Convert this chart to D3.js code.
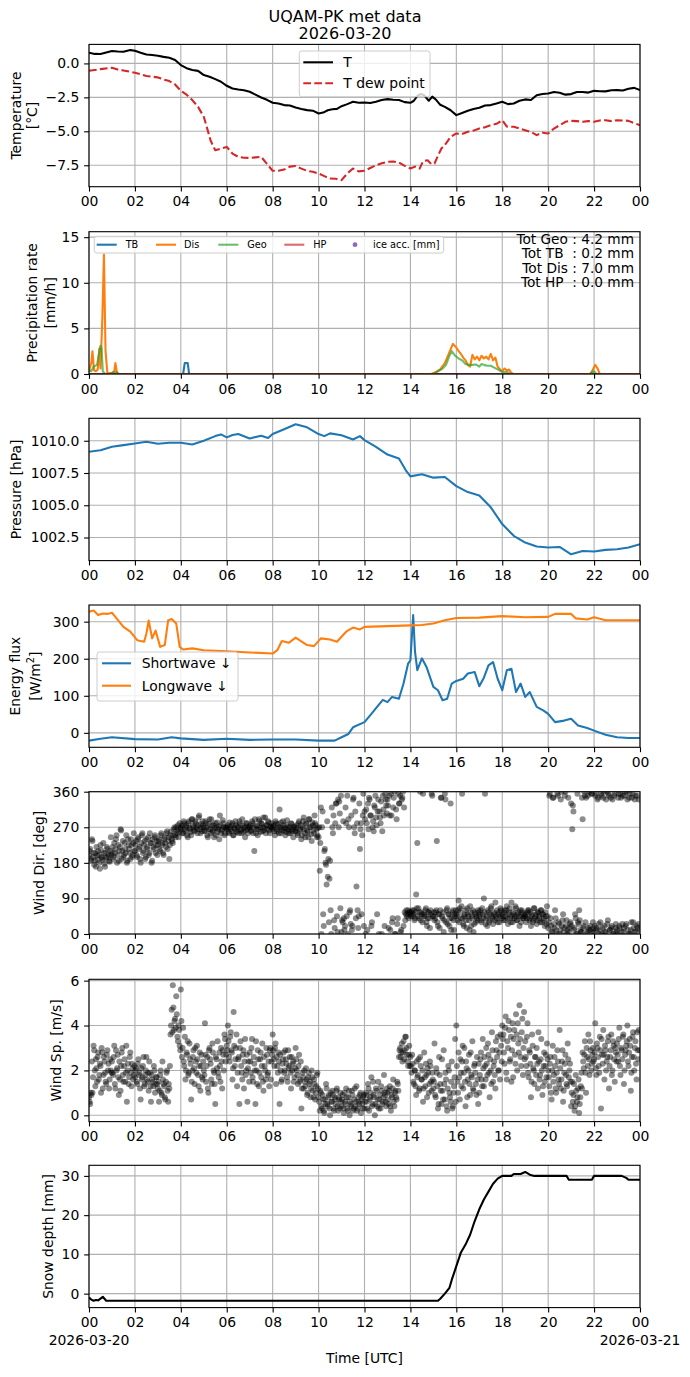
<!DOCTYPE html>
<html><head><meta charset="utf-8">
<script src="https://cdn.jsdelivr.net/npm/d3@7"></script>
<style>body{margin:0;background:#fff}svg text{font-family:"DejaVu Sans",sans-serif}</style>
</head><body>
<svg id="c" width="690" height="1377"></svg>
<script>
// ---------------- DATA ----------------
const titleLines = ["UQAM-PK met data", "2026-03-20"];
const hourTicks = [0,2,4,6,8,10,12,14,16,18,20,22,24];
const xTickLabels = ["00","02","04","06","08","10","12","14","16","18","20","22","00"];
const dateLabels = ["2026-03-20", "2026-03-21"];

const tempT = [[0,0.79],[0.25,0.70],[0.5,0.69],[0.75,0.80],[1,0.91],[1.25,0.88],[1.5,0.86],[1.8,0.98],[2,0.93],[2.25,0.78],[2.5,0.66],[2.75,0.62],[3,0.57],[3.25,0.48],[3.5,0.42],[3.75,0.25],[4,-0.12],[4.25,-0.35],[4.5,-0.49],[4.75,-0.55],[5,-0.86],[5.25,-0.98],[5.5,-1.16],[5.75,-1.35],[6,-1.65],[6.25,-1.85],[6.5,-1.92],[6.75,-1.98],[7,-2.09],[7.25,-2.30],[7.5,-2.51],[7.75,-2.68],[8,-2.90],[8.25,-2.95],[8.5,-3.07],[8.75,-3.10],[9,-3.24],[9.25,-3.35],[9.5,-3.44],[9.75,-3.48],[10,-3.69],[10.2,-3.62],[10.4,-3.45],[10.6,-3.38],[10.8,-3.35],[11,-3.15],[11.25,-3.00],[11.5,-2.83],[11.75,-2.90],[12,-2.88],[12.25,-2.92],[12.5,-2.83],[12.75,-2.70],[13,-2.63],[13.25,-2.68],[13.5,-2.70],[13.75,-2.85],[14,-2.90],[14.15,-2.75],[14.3,-2.40],[14.45,-2.25],[14.6,-2.35],[14.8,-2.75],[14.95,-2.45],[15.1,-2.65],[15.3,-3.05],[15.5,-3.20],[15.75,-3.45],[16,-3.81],[16.25,-3.65],[16.5,-3.49],[16.75,-3.35],[17,-3.27],[17.25,-3.10],[17.5,-3.07],[17.75,-2.95],[18,-2.83],[18.25,-3.00],[18.5,-2.95],[18.75,-2.75],[19,-2.65],[19.25,-2.70],[19.5,-2.34],[19.75,-2.25],[20,-2.21],[20.25,-2.10],[20.5,-2.16],[20.75,-2.30],[21,-2.26],[21.25,-2.10],[21.5,-2.11],[21.75,-2.15],[22,-2.02],[22.25,-2.05],[22.5,-2.06],[22.75,-1.98],[23,-1.97],[23.25,-2.00],[23.5,-1.87],[23.75,-1.80],[24,-1.97]];
const tempDew = [[0,-0.54],[0.5,-0.42],[1,-0.32],[1.25,-0.45],[1.5,-0.52],[2,-0.69],[2.25,-0.80],[2.5,-0.93],[3,-1.03],[3.25,-1.18],[3.5,-1.30],[3.75,-1.55],[4,-2.02],[4.25,-2.30],[4.5,-2.70],[4.75,-3.20],[5,-3.93],[5.15,-4.80],[5.3,-5.70],[5.5,-6.39],[5.75,-6.27],[6,-6.15],[6.25,-6.64],[6.5,-6.88],[6.75,-6.95],[7,-6.96],[7.25,-6.92],[7.5,-6.88],[7.75,-7.40],[8,-7.91],[8.25,-7.90],[8.5,-7.82],[8.75,-7.60],[9,-7.55],[9.25,-7.75],[9.5,-7.91],[9.75,-7.98],[10,-8.11],[10.25,-8.30],[10.5,-8.48],[10.75,-8.50],[11,-8.60],[11.25,-8.10],[11.5,-7.74],[11.75,-7.95],[12,-7.91],[12.25,-7.70],[12.5,-7.50],[12.75,-7.35],[13,-7.25],[13.25,-7.22],[13.5,-7.30],[13.75,-7.55],[14,-7.74],[14.2,-7.60],[14.4,-7.75],[14.55,-7.20],[14.75,-7.13],[14.9,-7.40],[15.05,-7.37],[15.2,-6.80],[15.35,-6.27],[15.55,-5.90],[15.75,-5.41],[16,-5.16],[16.25,-5.20],[16.5,-5.04],[16.75,-4.95],[17,-4.79],[17.25,-4.70],[17.5,-4.55],[17.75,-4.45],[18,-4.18],[18.2,-4.65],[18.5,-4.67],[18.75,-4.80],[19,-4.92],[19.25,-5.05],[19.5,-5.28],[19.75,-5.10],[20,-5.16],[20.25,-4.80],[20.5,-4.55],[20.75,-4.30],[21,-4.23],[21.25,-4.25],[21.5,-4.30],[21.75,-4.25],[22,-4.30],[22.25,-4.20],[22.5,-4.18],[22.75,-4.25],[23,-4.18],[23.25,-4.20],[23.5,-4.23],[23.75,-4.40],[24,-4.55]];
const tempLegend = ["T", "T dew point"];
const tempTicks = [0, -2.5, -5, -7.5];

const precipTB = [[0,0],[4.1,0],[4.17,1.2],[4.3,1.2],[4.36,0],[24,0]];
const precipDis = [[0,0.2],[0.05,0.8],[0.1,1.2],[0.15,2.5],[0.22,0.4],[0.3,0.3],[0.38,0.5],[0.45,2.8],[0.5,0.6],[0.58,6.0],[0.65,13.1],[0.72,2.5],[0.8,0.1],[1.0,0.1],[1.1,0.3],[1.15,1.2],[1.22,0.1],[1.3,0],[14.9,0],[15.1,0.2],[15.3,0.5],[15.5,1.2],[15.7,2.4],[15.85,3.3],[16.0,2.9],[16.1,2.5],[16.2,2.2],[16.3,1.8],[16.4,1.5],[16.5,1.0],[16.6,0.8],[16.7,2.1],[16.8,1.6],[16.9,1.9],[17.0,1.5],[17.1,2.0],[17.2,1.7],[17.3,1.9],[17.4,1.6],[17.5,2.2],[17.6,1.5],[17.7,1.8],[17.8,0.8],[17.9,0.5],[18.0,0.3],[18.1,0.6],[18.2,0.4],[18.3,0.5],[18.4,0.1],[18.5,0],[21.85,0],[21.95,0.5],[22.05,1.0],[22.15,0.6],[22.25,0],[24,0]];
const precipGeo = [[0,0.4],[0.1,0.3],[0.2,0.8],[0.35,1.0],[0.42,2.0],[0.5,3.1],[0.55,2.8],[0.6,0.3],[0.7,0],[0.95,0],[1.05,0.2],[1.2,0.2],[1.3,0],[15.0,0],[15.2,0.3],[15.4,0.6],[15.55,1.0],[15.7,2.0],[15.8,2.5],[15.95,2.0],[16.1,1.7],[16.25,1.5],[16.4,1.1],[16.55,1.0],[16.7,1.0],[16.85,1.05],[17.0,0.8],[17.1,1.1],[17.2,1.0],[17.35,0.9],[17.5,0.9],[17.65,0.7],[17.8,0.5],[17.95,0.3],[18.05,0.2],[18.2,0.25],[18.35,0],[21.8,0],[21.9,0.2],[22.0,0.3],[22.1,0],[24,0]];
const precipHP = [[0,0],[24,0]];
const precipLegend = ["TB", "Dis", "Geo", "HP", "ice acc. [mm]"];
const precipTotals = ["Tot Geo : 4.2 mm", "Tot TB  : 0.2 mm", "Tot Dis : 7.0 mm", "Tot HP  : 0.0 mm"];
const precipTicks = [0, 5, 10, 15];

const pressure = [[0,1009.14],[0.5,1009.27],[1,1009.53],[1.5,1009.66],[2,1009.79],[2.5,1009.92],[3,1009.77],[3.5,1009.84],[4,1009.84],[4.5,1009.71],[5,1010.0],[5.5,1010.36],[5.75,1010.49],[6,1010.26],[6.25,1010.44],[6.5,1010.52],[7,1010.18],[7.5,1010.39],[7.8,1010.21],[8,1010.52],[8.5,1010.89],[9,1011.28],[9.5,1011.04],[10,1010.52],[10.25,1010.36],[10.5,1010.57],[11,1010.42],[11.5,1010.10],[11.8,1010.36],[12,1010.05],[12.5,1009.53],[13,1008.93],[13.5,1008.62],[13.8,1007.71],[14,1007.24],[14.5,1007.40],[15,1007.14],[15.5,1007.19],[16,1006.48],[16.5,1006.02],[17,1005.76],[17.5,1004.84],[18,1003.54],[18.5,1002.63],[19,1002.11],[19.5,1001.80],[20,1001.72],[20.5,1001.77],[21,1001.20],[21.5,1001.46],[22,1001.41],[22.5,1001.54],[23,1001.59],[23.5,1001.72],[24,1001.98]];
const pressureTicks = [1002.5, 1005, 1007.5, 1010];

const shortwave = [[0,-21],[0.5,-16],[1,-12],[2,-17],[3,-18],[3.6,-12],[4,-15],[5,-19],[6,-16],[7,-19],[8,-18],[9,-18],[10,-21],[10.7,-21],[11,-12],[11.3,-3],[11.5,15],[12,29],[12.3,51],[12.6,74],[12.8,89],[13.0,83],[13.2,97],[13.5,92],[13.7,133],[13.9,187],[14.0,196],[14.12,318],[14.2,219],[14.3,169],[14.5,201],[14.7,178],[15.0,124],[15.2,115],[15.4,88],[15.6,92],[15.8,133],[16.0,140],[16.3,146],[16.5,160],[16.8,164],[17.0,126],[17.2,149],[17.4,182],[17.6,191],[17.8,146],[18.0,115],[18.2,169],[18.4,173],[18.6,110],[18.8,133],[19.0,97],[19.2,110],[19.5,70],[19.8,60],[20.0,51],[20.3,29],[20.7,33],[21.0,38],[21.3,20],[21.7,13],[22.0,6],[22.5,-5],[23,-12],[23.5,-14],[24,-14]];
const longwave = [[0,327],[0.2,330],[0.4,318],[0.6,322],[0.8,321],[1.0,324],[1.2,309],[1.5,286],[1.8,273],[2.1,250],[2.4,246],[2.5,268],[2.6,303],[2.75,255],[2.9,276],[3.1,232],[3.3,237],[3.45,304],[3.6,307],[3.8,295],[3.95,232],[4.1,225],[4.5,228],[5,223],[6,220],[7,217],[8,214],[8.2,223],[8.4,248],[8.7,243],[9.0,257],[9.5,237],[9.8,234],[10.1,255],[10.5,252],[10.8,246],[11.2,273],[11.5,284],[11.8,279],[12,286],[13,288],[14,290],[14.5,291],[15,295],[15.5,304],[16,310],[17,311],[18,315],[19,312],[20,313],[20.3,321],[21,321],[21.2,309],[21.7,306],[22,312],[22.5,304],[24,304]];
const fluxLegend = ["Shortwave \u2193", "Longwave \u2193"];
const fluxTicks = [0, 100, 200, 300];

// wind samples: two interleaved 3-minute series (20 values per hour each),
// the second one offset by 1.5 minutes
const windStepHours = 0.05;
const windOffsetHours = 0.025;
const windDir = [
200,215,190,235,205,185,170,198,210,180,225,195,188,205,170,192,215,200,183,245,
205,190,230,215,250,200,185,220,262,210,195,230,205,180,240,215,190,225,200,255,
210,235,195,245,220,180,250,205,225,190,240,215,200,255,230,185,220,245,205,235,
225,240,210,255,230,200,245,220,260,235,190,250,240,230,265,250,270,255,245,280,
265,275,255,280,260,270,245,285,265,250,290,270,260,280,265,275,300,255,270,285,
270,260,280,250,265,290,255,275,262,245,280,268,258,272,300,255,265,280,250,270,
265,275,255,270,260,280,250,265,275,258,270,285,262,255,275,268,245,280,265,272,
270,260,285,255,210,275,265,250,290,270,280,260,295,268,255,275,285,262,270,280,
265,275,250,280,260,270,315,255,268,285,262,250,275,265,255,270,280,260,245,270,
260,275,250,285,265,240,270,295,255,280,262,245,290,270,235,275,255,280,265,250,
245,160,320,270,50,210,180,125,145,30,185,0,270,300,15,330,45,340,335,65,
5,30,40,20,280,350,290,55,25,10,340,270,310,120,60,45,215,280,250,355,
310,0,280,330,345,300,20,270,260,320,295,50,340,310,280,0,350,300,355,325,
340,15,300,355,30,320,360,0,290,40,330,350,10,345,20,55,50,45,60,55,
50,55,45,60,40,100,230,65,55,35,50,355,45,60,30,40,55,15,50,350,
45,35,55,235,20,50,60,345,40,5,355,30,65,50,20,330,40,60,10,45,
50,35,85,65,40,355,25,45,60,15,50,35,70,20,45,5,55,30,40,60,
45,60,30,50,90,355,40,20,55,35,65,45,25,50,80,40,30,55,45,60,
50,35,60,45,70,25,55,40,80,30,50,45,65,35,55,20,45,60,40,50,
45,30,55,60,40,20,50,35,65,45,25,55,40,30,60,50,35,20,45,70,
15,350,40,5,345,25,60,10,355,30,0,340,20,50,15,360,35,10,5,25,
330,265,310,15,40,0,30,60,10,5,290,20,350,345,5,15,360,10,355,30,
5,350,15,340,25,10,355,0,345,20,5,360,35,350,10,15,340,0,355,25,
10,345,20,355,5,350,15,360,25,340,0,355,10,345,30,5,350,20,15,340];
const windDirB = [
210,185,240,195,175,205,220,188,200,165,212,192,230,178,205,220,195,185,210,200,
220,195,205,240,180,225,210,265,190,235,200,215,250,185,225,205,240,195,230,210,
225,200,240,215,190,230,255,210,235,195,220,245,205,230,180,240,215,250,225,200,
235,215,250,225,205,240,230,255,215,245,225,260,235,250,270,245,262,275,258,268,
270,255,285,265,275,250,280,268,258,290,275,262,285,270,255,295,265,278,260,275,
262,285,270,245,278,265,290,258,275,268,250,282,265,240,275,262,288,270,255,268,
270,258,282,265,275,250,268,285,260,272,255,278,265,290,258,270,262,280,255,268,
275,262,280,268,290,255,272,265,285,258,278,270,262,295,275,265,282,255,272,268,
272,260,285,265,278,255,270,282,262,275,268,258,288,270,262,255,278,265,272,260,
268,255,280,262,275,250,285,265,245,278,258,290,270,252,282,262,300,275,245,268,
270,230,0,310,20,215,175,285,190,140,60,320,255,35,280,330,5,270,305,350,
35,285,10,320,45,0,270,60,300,20,345,255,40,280,15,330,265,50,300,20,
290,315,10,265,340,300,30,285,325,350,275,310,0,295,335,260,315,20,340,305,
325,350,10,300,40,345,0,315,25,355,330,5,340,360,320,35,60,50,40,55,
45,60,50,35,55,65,45,40,360,55,30,50,45,65,20,55,40,60,355,45,
55,40,60,30,50,15,345,45,55,35,340,60,25,50,40,10,55,35,50,60,
45,60,30,55,70,40,20,50,35,65,45,10,55,40,60,25,50,45,35,55,
50,35,65,40,55,25,45,60,30,50,70,40,55,35,45,60,50,30,65,40,
45,55,35,60,40,50,65,30,45,55,40,70,35,50,45,60,30,55,40,45,
50,40,60,35,55,45,30,65,40,50,35,55,45,60,30,50,40,55,25,45,
30,355,20,5,345,15,40,0,350,25,10,360,35,5,350,20,0,345,15,30,
20,325,10,50,0,355,25,35,5,345,15,360,30,0,350,10,20,355,5,15,
20,355,10,345,0,30,350,15,360,5,340,25,355,10,345,20,0,350,15,5,
0,355,15,345,25,5,350,20,360,10,345,0,30,355,15,340,5,350,25,10];
const windDirTicks = [0, 90, 180, 270, 360];

const windSpeed = [
0.8,0.5,0.9,1.0,3.1,2.0,2.5,1.5,2.8,1.8,2.2,3.0,1.2,2.6,1.9,1.4,2.9,2.3,1.6,2.0,
2.4,1.8,3.1,1.2,2.0,2.7,0.9,1.6,2.2,3.0,1.5,2.5,1.9,0.6,2.3,1.7,2.8,1.3,2.1,1.8,
1.7,2.1,1.4,2.5,1.9,0.7,1.6,2.2,1.3,1.8,2.6,1.5,1.1,1.9,0.6,1.6,1.3,2.0,1.4,1.7,
1.2,0.6,1.8,1.0,2.4,1.4,0.8,1.5,2.0,0.6,1.2,3.6,4.7,5.8,3.8,4.3,5.3,3.5,4.0,3.1,
5.6,2.6,3.9,2.2,1.6,2.8,3.3,1.9,2.5,0.7,2.0,2.9,1.4,2.4,3.1,1.8,2.2,1.1,2.7,1.6,
2.0,4.1,1.5,2.6,1.0,3.0,2.3,1.4,2.8,1.9,0.5,2.5,3.3,1.7,2.2,3.0,1.2,2.7,3.6,2.4,
3.1,4.0,2.6,3.5,2.9,1.6,4.6,2.2,3.0,1.3,2.5,0.5,3.3,1.9,2.7,1.2,3.4,2.0,0.6,2.4,
2.8,1.9,3.4,1.5,2.3,0.5,2.0,2.9,1.3,2.5,1.7,3.2,1.1,2.2,1.6,2.7,1.9,1.3,3.0,2.4,
3.6,2.5,3.0,1.4,2.2,2.8,0.5,2.0,1.6,2.5,1.9,2.9,2.3,1.5,2.1,2.6,1.2,2.0,2.4,1.7,
3.0,2.0,1.4,2.7,1.6,0.3,1.9,1.2,1.5,2.1,0.9,1.7,1.4,0.8,2.0,1.1,1.6,0.7,1.3,1.9,
0.8,0.2,1.0,0.3,0.7,0.1,0.5,1.2,0.4,0.9,0.0,0.6,1.1,0.3,0.8,0.5,1.2,0.2,0.7,1.0,
0.4,0.9,0.1,0.6,1.2,0.3,0.8,0.0,0.5,1.1,0.2,0.7,0.4,1.3,0.3,0.6,0.9,0.1,0.5,0.8,
0.3,1.0,0.6,1.4,0.2,0.8,1.7,0.5,0.9,0.0,1.2,0.4,1.5,0.7,0.3,1.1,0.6,1.8,0.9,0.4,
1.0,0.5,1.3,0.2,0.8,1.6,0.4,1.1,0.7,1.4,2.6,3.0,2.8,2.4,3.3,2.9,3.5,2.7,2.2,3.1,
2.6,1.9,2.3,1.4,2.0,0.9,1.7,2.5,1.2,2.2,1.6,0.6,2.8,1.3,1.8,2.1,1.0,2.4,1.5,1.9,
1.2,3.2,0.8,1.9,0.3,2.6,1.4,0.5,1.1,2.9,0.7,1.6,0.2,2.2,1.0,0.6,2.4,0.4,1.3,3.4,
4.0,1.5,2.8,0.7,1.9,2.4,1.2,3.0,0.4,2.1,1.6,2.7,0.9,1.8,3.3,1.1,2.3,1.4,2.6,0.5,
1.0,2.5,1.6,3.4,1.3,2.2,3.0,1.8,2.7,0.8,2.0,3.7,1.5,2.4,1.2,2.9,3.5,2.0,1.6,3.1,
4.0,3.6,2.3,4.4,1.6,3.0,3.8,2.5,1.5,4.1,3.4,2.7,4.5,2.0,3.2,4.9,2.6,3.7,1.8,4.6,
3.3,2.2,4.1,1.7,2.8,0.8,3.6,2.1,1.4,2.6,3.0,1.2,2.4,1.8,3.4,0.9,2.2,1.5,2.7,3.2,
2.0,1.3,2.6,0.7,3.1,1.8,2.2,1.0,2.9,1.6,3.8,1.2,2.4,0.6,1.9,2.7,1.4,3.2,1.7,2.3,
0.4,1.5,0.9,0.2,1.8,0.6,1.2,0.1,0.8,1.9,2.8,2.1,3.3,1.0,2.6,3.6,1.8,2.9,2.3,3.0,
2.5,4.1,1.8,3.0,2.2,3.5,0.3,2.7,3.8,1.6,2.9,2.4,3.3,1.2,2.6,3.6,2.0,3.1,1.5,2.8,
3.2,2.4,3.9,1.8,2.9,3.5,1.4,2.7,3.1,4.0,2.2,3.4,1.1,2.6,3.7,2.0,3.3,1.6,2.9,3.8];
const windSpeedB = [
0.6,1.0,2.4,1.7,2.9,1.3,2.1,2.6,1.6,2.3,1.0,2.8,1.8,2.4,1.5,2.7,2.0,1.2,2.5,1.9,
1.9,2.6,1.4,2.9,2.1,1.7,2.4,1.1,2.8,1.8,2.2,1.5,3.1,2.0,1.4,2.6,1.9,2.3,1.6,2.2,
2.0,1.5,2.3,1.8,1.2,2.1,1.7,2.6,1.4,2.0,1.6,1.9,2.4,1.3,1.8,1.5,2.2,1.0,1.7,1.4,
1.5,1.1,2.0,0.9,1.6,1.3,0.7,1.9,1.1,1.4,2.2,4.0,3.7,4.8,4.2,3.9,4.5,3.3,3.8,2.9,
4.2,3.0,2.4,3.5,2.0,2.7,1.8,3.2,2.3,1.5,2.6,2.1,3.0,1.9,2.5,1.3,2.8,2.2,1.7,2.4,
1.8,2.7,2.2,1.2,2.9,2.5,1.6,3.2,2.0,1.4,2.6,2.1,1.9,2.8,1.5,2.4,2.9,2.0,3.4,2.7,
2.9,3.3,2.4,3.7,2.8,2.1,3.1,2.5,3.6,1.9,2.6,3.0,2.2,1.6,2.9,2.4,1.8,2.7,2.1,1.5,
2.4,3.0,1.7,2.6,2.0,3.3,1.4,2.5,1.9,2.8,2.2,1.5,2.6,2.0,3.0,1.8,2.4,2.9,1.6,2.7,
2.9,2.2,3.2,2.6,1.9,2.4,2.7,1.5,2.3,2.8,2.0,2.5,1.7,2.9,2.2,1.9,2.6,2.3,1.5,2.1,
2.5,1.8,2.2,1.5,2.4,1.2,1.7,2.0,1.3,1.6,1.0,1.9,1.5,1.2,1.7,0.8,1.4,1.0,1.8,1.2,
0.6,1.1,0.4,0.9,0.2,0.7,1.4,0.5,0.8,0.3,1.0,0.6,0.9,0.2,0.7,1.1,0.4,0.8,0.3,0.6,
0.7,0.3,1.0,0.5,0.8,0.2,1.1,0.6,0.4,0.9,0.3,1.2,0.6,0.2,0.8,0.5,1.0,0.7,0.3,0.9,
0.6,0.9,0.3,1.2,0.7,1.0,0.4,1.5,0.8,0.5,1.1,0.7,0.3,0.9,1.3,0.5,0.8,1.0,0.6,1.2,
0.7,1.1,0.4,0.9,1.2,0.6,1.0,0.8,1.5,1.1,2.9,2.6,3.2,2.8,2.5,3.5,3.0,2.4,2.7,2.2,
2.2,2.7,1.5,2.0,1.3,2.4,1.8,1.1,2.6,1.6,2.0,1.2,1.7,2.3,0.8,1.9,1.4,2.2,1.1,1.6,
1.5,0.9,2.1,1.3,0.5,1.8,1.1,2.5,0.7,1.4,1.9,0.4,1.2,2.0,0.8,1.5,0.3,1.0,1.7,0.6,
2.2,1.0,1.7,2.5,1.3,3.1,1.9,1.5,2.4,0.8,2.0,1.4,2.8,1.7,1.2,2.2,1.9,0.9,1.6,2.3,
1.8,2.8,1.3,2.1,2.6,1.6,2.3,3.2,1.9,2.5,1.4,2.9,2.2,1.8,3.3,2.6,2.0,2.8,3.6,2.4,
3.4,2.8,3.9,1.9,3.3,4.2,2.4,3.5,2.9,1.7,3.8,2.3,3.6,4.1,2.8,3.4,2.2,4.3,3.0,2.5,
2.6,3.5,1.9,2.9,2.3,1.5,3.1,2.0,2.6,1.8,2.3,3.7,1.6,2.5,2.0,1.3,2.8,2.2,1.7,2.5,
1.7,2.3,1.0,2.0,1.5,2.6,1.2,1.9,2.4,1.4,2.1,1.6,2.9,1.1,2.3,1.8,1.3,2.5,2.0,1.5,
1.0,0.6,1.4,0.4,1.1,0.8,1.6,0.5,1.3,1.2,2.4,2.7,1.9,3.0,2.2,2.5,3.3,2.0,2.7,2.4,
2.8,2.1,3.2,2.6,1.9,2.9,3.4,2.3,2.7,3.1,2.0,2.6,3.5,2.2,2.9,1.8,3.3,2.5,3.0,2.4,
2.7,3.4,2.2,3.0,2.5,3.6,2.0,2.9,3.3,2.4,2.8,3.1,1.9,3.5,2.6,3.0,2.3,3.7,2.5,2.9];
const windSpeedTicks = [0, 2, 4, 6];

const snowDepth = [[0,-1.0],[0.1,-1.5],[0.2,-1.8],[0.3,-1.6],[0.4,-1.7],[0.6,-0.8],[0.75,-1.8],[15.2,-1.8],[15.3,-1.3],[15.5,0],[15.7,1.5],[15.8,3.5],[16.0,7],[16.2,10.5],[16.4,12.5],[16.6,15.0],[16.8,18.5],[17.0,21.5],[17.2,24],[17.4,26],[17.6,28],[17.8,29.3],[18.0,30],[18.4,30],[18.5,30.5],[18.8,30.5],[19.0,31],[19.2,30.3],[19.4,30],[20.8,30],[20.9,29],[21.9,29],[22.0,30],[23.2,30],[23.4,29.5],[23.5,29],[24,29]];
const snowTicks = [0, 10, 20, 30];

const yLabels = [["Temperature","[°C]"],["Precipitation rate","[mm/h]"],["Pressure [hPa]"],["Energy flux","[W/m²]"],["Wind Dir. [deg]"],["Wind Sp. [m/s]"],["Snow depth [mm]"]];
const xLabel = "Time [UTC]";

// ---------------- LAYOUT ----------------
const svg = d3.select('#c');
const X0 = 89, X1 = 640, PH = 142.3;
const tops = [44.4, 231.7, 418.3, 605, 791.7, 979.3, 1165.3];
const FS = 13.9, TL = 4.86, LW = 2.08;
const x = d3.scaleLinear().domain([0, 24]).range([X0, X1]);
const C = {blue:'#1f77b4', orange:'#ff7f0e', green:'#2ca02c', red:'#d62728', purple:'#9467bd'};
const minus = s => s.replace('-', '\u2212');

function makePanel(i, dom, ticks, fmt) {
  const top = tops[i], bot = top + PH;
  const y = d3.scaleLinear().domain(dom).range([bot, top]);
  const g = svg.append('g');
  const cid = 'clip' + i;
  svg.append('clipPath').attr('id', cid).append('rect')
    .attr('x', X0).attr('y', top).attr('width', X1 - X0).attr('height', PH);
  const grid = g.append('g').attr('stroke', '#b0b0b0').attr('stroke-width', 1.1);
  grid.selectAll('.vx').data(hourTicks).join('line')
    .attr('x1', d => x(d)).attr('x2', d => x(d)).attr('y1', top).attr('y2', bot);
  grid.selectAll('.hy').data(ticks).join('line')
    .attr('x1', X0).attr('x2', X1).attr('y1', d => y(d)).attr('y2', d => y(d));
  const plot = g.append('g').attr('clip-path', `url(#${cid})`);
  g.append('rect').attr('x', X0).attr('y', top).attr('width', X1 - X0).attr('height', PH)
    .attr('fill', 'none').attr('stroke', '#000').attr('stroke-width', 1.1);
  const ax = g.append('g').attr('transform', `translate(0,${bot})`)
    .call(d3.axisBottom(x).tickValues(hourTicks).tickFormat((d, k) => xTickLabels[k]).tickSize(TL).tickPadding(TL));
  const ay = g.append('g').attr('transform', `translate(${X0},0)`)
    .call(d3.axisLeft(y).tickValues(ticks).tickFormat(fmt).tickSize(TL).tickPadding(TL));
  [ax, ay].forEach(a => {
    a.select('.domain').remove();
    a.selectAll('text').attr('font-size', FS).attr('font-family', 'DejaVu Sans').attr('fill', '#000');
    a.selectAll('line').attr('stroke', '#000').attr('stroke-width', 1.1);
  });
  return {g, y, plot, top, bot};
}

function yLabel(lines, xs, cy) {
  lines.forEach((t, k) => {
    svg.append('text').attr('transform', `translate(${xs[k]},${cy}) rotate(-90)`)
      .attr('text-anchor', 'middle').attr('dominant-baseline', 'central')
      .attr('font-size', FS).attr('fill', '#000').text(t);
  });
}

function drawLine(p, data, color, opts = {}) {
  const line = d3.line().x(d => x(d[0])).y(d => p.y(d[1]));
  const path = p.plot.append('path').datum(data).attr('d', line).attr('fill', 'none')
    .attr('stroke', color).attr('stroke-width', opts.w || LW).attr('stroke-linejoin', 'round')
    .attr('stroke-linecap', 'butt');
  if (opts.dash) path.attr('stroke-dasharray', opts.dash);
  if (opts.op) path.attr('stroke-opacity', opts.op);
  return path;
}

function drawScatter(p, values, offset) {
  p.plot.append('g').selectAll('circle').data(values).join('circle')
    .attr('cx', (d, k) => x(k * windStepHours + offset)).attr('cy', d => p.y(d)).attr('r', 3)
    .attr('fill', '#000').attr('fill-opacity', 0.45);
}

function legendBox(x0, y0, w, h) {
  svg.append('rect').attr('x', x0).attr('y', y0).attr('width', w).attr('height', h)
    .attr('rx', 2.5).attr('fill', '#fff').attr('fill-opacity', 0.8)
    .attr('stroke', '#cccccc').attr('stroke-width', 1);
}

// Title
svg.append('g').selectAll('text').data(titleLines).join('text')
  .attr('x', 345).attr('y', (d, k) => 22 + k * 17).attr('text-anchor', 'middle')
  .attr('font-size', 16).attr('fill', '#000').text(d => d);

// Panel 1: temperature
const p1 = makePanel(0, [-9.08, 1.40], tempTicks, d => minus(d.toFixed(1)));
drawLine(p1, tempT, '#000');
drawLine(p1, tempDew, C.red, {dash: '7.7,3.3'});
yLabel(yLabels[0], [15.5, 32], (p1.top + p1.bot) / 2);
legendBox(299.3, 51, 130.7, 45.7);
[['#000', null], [C.red, '7.7,3.3']].forEach((s, k) => {
  const yy = 62.3 + k * 21;
  const l = svg.append('line').attr('x1', 303.3).attr('x2', 333).attr('y1', yy).attr('y2', yy)
    .attr('stroke', s[0]).attr('stroke-width', LW);
  if (s[1]) l.attr('stroke-dasharray', s[1]);
  svg.append('text').attr('x', 343.3).attr('y', yy + 5).attr('font-size', FS).attr('fill', '#000').text(tempLegend[k]);
});

// Panel 2: precipitation
const p2 = makePanel(1, [0, 15.6], precipTicks, d3.format('d'));
drawLine(p2, precipTB, C.blue);
drawLine(p2, precipDis, C.orange);
drawLine(p2, precipGeo, C.green, {op: 0.7});
drawLine(p2, precipHP, C.red, {op: 0.7});
yLabel(yLabels[1], [31.7, 49.7], (p2.top + p2.bot) / 2);
legendBox(94.3, 236.3, 349.4, 16.7);
{
  const cy = 244.7, fs = 9.72;
  const lx = [96.7, 156, 218.3, 284.3], tx = [125.7, 184, 247.3, 313.3];
  const cols = [[C.blue, 1], [C.orange, 1], [C.green, 0.7], [C.red, 0.7]];
  cols.forEach((c, k) => {
    svg.append('line').attr('x1', lx[k]).attr('x2', lx[k] + 20).attr('y1', cy).attr('y2', cy)
      .attr('stroke', c[0]).attr('stroke-opacity', c[1]).attr('stroke-width', LW);
    svg.append('text').attr('x', tx[k]).attr('y', cy + 3.5).attr('font-size', fs).attr('fill', '#000').text(precipLegend[k]);
  });
  svg.append('circle').attr('cx', 355).attr('cy', cy).attr('r', 2.4).attr('fill', C.purple);
  svg.append('text').attr('x', 373).attr('y', cy + 3.5).attr('font-size', fs).attr('fill', '#000').text(precipLegend[4]);
}
svg.append('g').selectAll('text').data(precipTotals).join('text')
  .attr('x', 634).attr('y', (d, k) => 244.3 + k * 14.1).attr('text-anchor', 'end')
  .attr('xml:space', 'preserve').style('white-space', 'pre')
  .attr('font-size', 13.7).attr('fill', '#000').text(d => d);

// Panel 3: pressure
const p3 = makePanel(2, [1000.71, 1011.74], pressureTicks, d => d.toFixed(1));
drawLine(p3, pressure, C.blue);
yLabel(yLabels[2], [16.3], (p3.top + p3.bot) / 2);

// Panel 4: energy flux
const p4 = makePanel(3, [-39, 345], fluxTicks, d => minus(d3.format('d')(d)));
drawLine(p4, shortwave, C.blue);
drawLine(p4, longwave, C.orange);
{
  const cy = (p4.top + p4.bot) / 2;
  svg.append('text').attr('transform', `translate(15.4,${cy}) rotate(-90)`)
    .attr('text-anchor', 'middle').attr('dominant-baseline', 'central')
    .attr('font-size', FS).attr('fill', '#000').text('Energy flux');
  const t = svg.append('text').attr('transform', `translate(35,${cy}) rotate(-90)`)
    .attr('text-anchor', 'middle').attr('dominant-baseline', 'central')
    .attr('font-size', FS).attr('fill', '#000');
  t.append('tspan').text('[W/m');
  t.append('tspan').attr('font-size', 9.7).attr('dy', -5).text('2');
  t.append('tspan').attr('dy', 5).text(']');
}
legendBox(97, 652, 141, 49);
[C.blue, C.orange].forEach((c, k) => {
  const yy = 663.3 + k * 22.4;
  svg.append('line').attr('x1', 102).attr('x2', 131).attr('y1', yy).attr('y2', yy)
    .attr('stroke', c).attr('stroke-width', LW);
  svg.append('text').attr('x', 141.7).attr('y', yy + 5).attr('font-size', FS).attr('fill', '#000').text(fluxLegend[k]);
});

// Panel 5: wind direction
const p5 = makePanel(4, [0, 360], windDirTicks, d3.format('d'));
drawScatter(p5, windDir, 0);
drawScatter(p5, windDirB, windOffsetHours);
yLabel(yLabels[4], [38.7], (p5.top + p5.bot) / 2);

// Panel 6: wind speed
const p6 = makePanel(5, [-0.28, 6.06], windSpeedTicks, d3.format('d'));
drawScatter(p6, windSpeed, 0);
drawScatter(p6, windSpeedB, windOffsetHours);
yLabel(yLabels[5], [56.3], (p6.top + p6.bot) / 2);

// Panel 7: snow depth
const p7 = makePanel(6, [-3.55, 32.7], snowTicks, d3.format('d'));
drawLine(p7, snowDepth, '#000');
yLabel(yLabels[6], [47.5], (p7.top + p7.bot) / 2);
svg.append('g').selectAll('text').data(dateLabels).join('text')
  .attr('x', (d, k) => x(k * 24)).attr('y', p7.bot + 37).attr('text-anchor', 'middle')
  .attr('font-size', FS).attr('fill', '#000').text(d => d);
svg.append('text').attr('x', (X0 + X1) / 2).attr('y', p7.bot + 55).attr('text-anchor', 'middle')
  .attr('font-size', FS).attr('fill', '#000').text(xLabel);
</script>
</body></html>
